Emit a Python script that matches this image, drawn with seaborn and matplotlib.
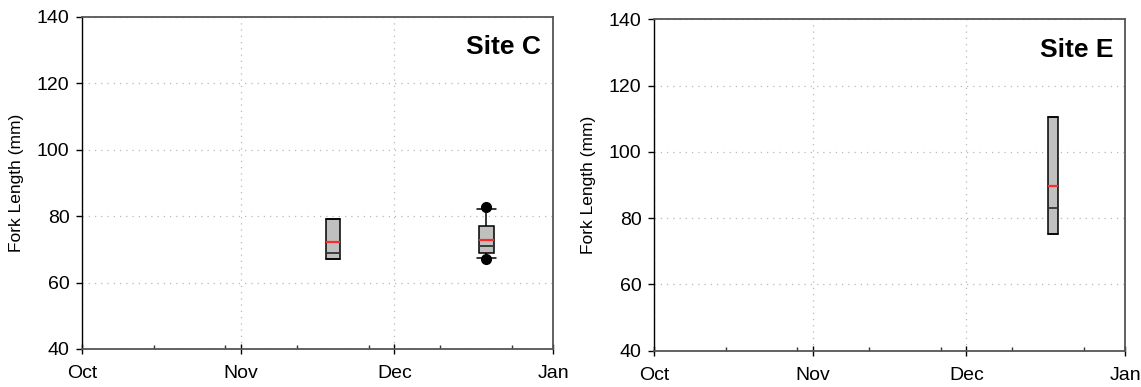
import numpy as np
import pandas as pd
import matplotlib
matplotlib.use("Agg")
import matplotlib.pyplot as plt
import seaborn as sns

# ---- data (fork length samples in mm) ----
site_names = ["Site C", "Site E"]
# sampling day = days after 1 October
site_c_days = [49, 79]
site_c_nov_fl = [67, 67, 67, 68, 69, 73.9, 79, 79, 79]
site_c_dec_fl = [67.0, 67.3, 69, 69, 71, 71, 77, 82.2, 82.6]
site_e_days = [78]
site_e_dec_fl = [75.1, 75.1, 75.1, 80, 83.2, 87, 110.6, 110.6, 110.6]

month_ticks = [0, 31, 61, 92]
month_labels = ["Oct", "Nov", "Dec", "Jan"]
minor_ticks = [14, 28, 42, 56, 70, 84]
y_ticks = [40, 60, 80, 100, 120, 140]

df_c = pd.DataFrame({
    "day": [site_c_days[0]] * len(site_c_nov_fl) + [site_c_days[1]] * len(site_c_dec_fl),
    "fl": site_c_nov_fl + site_c_dec_fl,
})
df_e = pd.DataFrame({
    "day": [site_e_days[0]] * len(site_e_dec_fl),
    "fl": site_e_dec_fl,
})

sns.set_theme(style="white")
plt.rcParams["font.family"] = ["Liberation Sans", "DejaVu Sans"]
for key in ["text.color", "axes.labelcolor", "xtick.color", "ytick.color"]:
    plt.rcParams[key] = "black"

fig = plt.figure(figsize=(11.41, 3.87), dpi=100)
ax1 = fig.add_axes([0.0719, 0.0982, 0.4128, 0.8586])
ax2 = fig.add_axes([0.5732, 0.0938, 0.4128, 0.8563])

common = dict(
    x="day", y="fl", orient="x", native_scale=True,
    color="#c0c0c0", saturation=1, linecolor="black", linewidth=1.1,
    whis=(10, 90), showmeans=True, meanline=True,
    meanprops=dict(color="#ff2a2a", linestyle="-", linewidth=1.6),
    medianprops=dict(color="#333333", linewidth=1.3),
    flierprops=dict(marker="o", markerfacecolor="black", markeredgecolor="black",
                    markersize=7),
)

sns.boxplot(data=df_c, ax=ax1, width=0.095, capwidths=[2.85, 3.9], **common)
sns.boxplot(data=df_e, ax=ax2, width=2.0, capwidths=2.0, **common)

for ax, name in zip([ax1, ax2], site_names):
    ax.set_xlim(month_ticks[0], month_ticks[-1])
    ax.set_ylim(y_ticks[0], y_ticks[-1])
    ax.set_xticks(month_ticks)
    ax.set_xticklabels(month_labels)
    ax.set_xticks(minor_ticks, minor=True)
    ax.set_yticks(y_ticks)
    ax.set_xlabel("")
    ax.set_ylabel("Fork Length (mm)", fontsize=12.5, labelpad=9)
    ax.tick_params(axis="x", which="major", direction="inout", length=7,
                   width=1, color="black", labelsize=14, pad=8, bottom=True)
    ax.tick_params(axis="x", which="minor", direction="in", length=3,
                   width=1, color="#333333", bottom=True)
    ax.tick_params(axis="y", which="major", direction="out", length=4,
                   width=1, color="black", labelsize=14, pad=5, left=True)
    ax.set_axisbelow(True)
    ax.grid(True, which="major", axis="both", color="#b8b8b8",
            linestyle=(0, (1, 4)), linewidth=0.9)
    for side in ["top", "right", "bottom"]:
        ax.spines[side].set_color("#555555")
        ax.spines[side].set_linewidth(1.3)
    ax.spines["left"].set_color("black")
    ax.spines["left"].set_linewidth(1.0)
    ax.text(0.975, 0.945, name, transform=ax.transAxes, ha="right", va="top",
            fontsize=19, fontweight="bold")

fig.savefig("out.png", dpi=100)
